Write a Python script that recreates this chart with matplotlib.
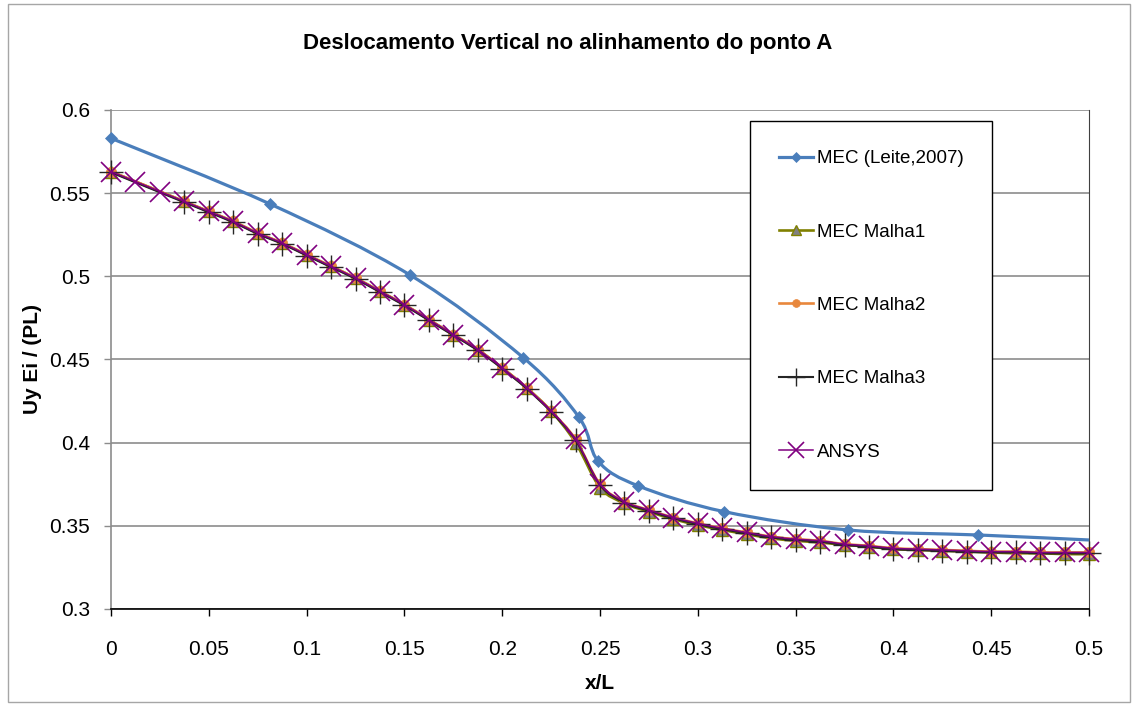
import matplotlib
matplotlib.use("Agg")
import matplotlib.pyplot as plt
import numpy as np
from matplotlib.path import Path
from matplotlib.patches import PathPatch, Rectangle
from matplotlib.lines import Line2D
from matplotlib.ticker import FuncFormatter, MultipleLocator

# ── Données ──────────────────────────────────────────────────────────────────
x_leite = [0.0, 0.0813, 0.1529, 0.2108, 0.2393, 0.2491, 0.2696, 0.3136, 0.3769, 0.4434, 0.5]
uy_leite = [0.583, 0.5435, 0.5008, 0.4511, 0.4152, 0.3888, 0.374, 0.3585, 0.3475, 0.3445, 0.3415]

x_malha = [0.0, 0.0375, 0.05, 0.0625, 0.075, 0.0875, 0.1, 0.1125, 0.125, 0.1375,
           0.15, 0.1625, 0.175, 0.1875, 0.2, 0.2125, 0.225, 0.2375, 0.25, 0.2625,
           0.275, 0.2875, 0.3, 0.3125, 0.325, 0.3375, 0.35, 0.3625, 0.375, 0.3875,
           0.4, 0.4125, 0.425, 0.4375, 0.45, 0.4625, 0.475, 0.4875, 0.5]
uy_malha1 = [0.563, 0.545, 0.539, 0.533, 0.526, 0.520, 0.513, 0.506, 0.499, 0.491,
             0.483, 0.474, 0.465, 0.456, 0.445, 0.433, 0.419, 0.400, 0.373, 0.3635,
             0.3585, 0.354, 0.3505, 0.3475, 0.345, 0.3425, 0.341, 0.340, 0.3385, 0.3375,
             0.336, 0.3355, 0.335, 0.3345, 0.334, 0.3335, 0.3335, 0.333, 0.333]
uy_malha2 = [0.563, 0.545, 0.539, 0.533, 0.526, 0.520, 0.513, 0.506, 0.499, 0.491,
             0.483, 0.474, 0.465, 0.456, 0.445, 0.433, 0.419, 0.402, 0.375, 0.3645,
             0.3595, 0.355, 0.3515, 0.3485, 0.346, 0.3435, 0.342, 0.341, 0.339, 0.338,
             0.3365, 0.336, 0.3355, 0.335, 0.3345, 0.3345, 0.334, 0.334, 0.334]
uy_malha3 = [0.5625, 0.5445, 0.5385, 0.5325, 0.5255, 0.5195, 0.5125, 0.5055, 0.4985, 0.4905,
             0.4825, 0.4735, 0.4645, 0.4555, 0.4445, 0.4325, 0.4185, 0.4015, 0.3745, 0.364,
             0.359, 0.3545, 0.351, 0.348, 0.3455, 0.343, 0.3415, 0.3405, 0.3385, 0.3375,
             0.336, 0.3355, 0.335, 0.3345, 0.334, 0.334, 0.3335, 0.3335, 0.3335]

x_ansys = [0.0, 0.0125, 0.025, 0.0375, 0.05, 0.0625, 0.075, 0.0875, 0.1, 0.1125,
           0.125, 0.1375, 0.15, 0.1625, 0.175, 0.1875, 0.2, 0.2125, 0.225, 0.2375,
           0.25, 0.2625, 0.275, 0.2875, 0.3, 0.3125, 0.325, 0.3375, 0.35, 0.3625,
           0.375, 0.3875, 0.4, 0.4125, 0.425, 0.4375, 0.45, 0.4625, 0.475, 0.4875, 0.5]
uy_ansys = [0.563, 0.557, 0.551, 0.545, 0.539, 0.533, 0.526, 0.520, 0.513, 0.506,
            0.499, 0.491, 0.483, 0.474, 0.465, 0.456, 0.445, 0.433, 0.419, 0.402,
            0.375, 0.3645, 0.3595, 0.355, 0.3515, 0.3485, 0.346, 0.3435, 0.342, 0.341,
            0.339, 0.338, 0.3365, 0.336, 0.3355, 0.335, 0.3345, 0.3345, 0.334, 0.334, 0.334]

labels = ["MEC (Leite,2007)", "MEC Malha1", "MEC Malha2", "MEC Malha3", "ANSYS"]

plt.rcParams["font.family"] = ["Liberation Sans", "DejaVu Sans"]

W, H = 1136, 704
fig = plt.figure(figsize=(W / 100, H / 100), dpi=100)

# bordure extérieure du graphique (style Excel)
fig.patches.append(Rectangle((8 / W, 2 / H), 1122 / W, 698 / H, transform=fig.transFigure,
                             fill=False, edgecolor="#A6A6A6", linewidth=1.0))

x0, x1, ytop, ybot = 111, 1089, 110, 609
ax = fig.add_axes([x0 / W, 1 - ybot / H, (x1 - x0) / W, (ybot - ytop) / H])


def smooth_line(x, y, **kw):
    """Trait lissé façon Excel (Bézier Catmull-Rom) passant par les points."""
    P = np.column_stack([x, y])
    n = len(P)
    verts = [P[0]]
    codes = [Path.MOVETO]
    for i in range(n - 1):
        p_prev = P[i - 1] if i > 0 else P[i]
        p_next2 = P[i + 2] if i + 2 < n else P[i + 1]
        c1 = P[i] + (P[i + 1] - p_prev) / 6.0
        c2 = P[i + 1] - (p_next2 - P[i]) / 6.0
        verts += [c1, c2, P[i + 1]]
        codes += [Path.CURVE4] * 3
    patch = PathPatch(Path(verts, codes), facecolor="none", capstyle="round",
                      joinstyle="round", **kw)
    ax.add_patch(patch)


styles = [
    dict(color="#4A7EBB", lw=2.3, marker="D", ms=6.5, mfc="#4A7EBB", mec="#4A7EBB", mew=0.5),
    dict(color="#808000", lw=1.9, marker="^", ms=9, mfc="#808080", mec="#808000", mew=1.0),
    dict(color="#E8873C", lw=1.9, marker="o", ms=7.5, mfc="#E8873C", mec="#E8873C", mew=0.5),
    dict(color="#262626", lw=1.5, marker="+", ms=17, mfc="none", mec="#262626", mew=1.0),
    dict(color="#800080", lw=1.1, marker="x", ms=15, mfc="none", mec="#800080", mew=1.2),
]
series = [(x_leite, uy_leite), (x_malha, uy_malha1), (x_malha, uy_malha2),
          (x_malha, uy_malha3), (x_ansys, uy_ansys)]

handles = []
for k, ((xs, ys), st, lab) in enumerate(zip(series, styles, labels)):
    z = 3 + k
    smooth_line(xs, ys, edgecolor=st["color"], linewidth=st["lw"], zorder=z)
    mk = st.get("marker")
    ax.plot(xs if k else xs[:-1], ys if k else ys[:-1], ls="none", marker=mk,
            ms=st["ms"], mfc=st["mfc"], mec=st["mec"], mew=st["mew"],
            zorder=z + 0.5, clip_on=False)
    handles.append(Line2D([0], [0], color=st["color"], lw=st["lw"], marker=mk,
                          ms=st["ms"] * 0.75, mfc=st["mfc"], mec=st["mec"],
                          mew=st["mew"], label=lab))

ax.set_xlim(0, 0.5)
ax.set_ylim(0.3, 0.6)
ax.xaxis.set_major_locator(MultipleLocator(0.05))
ax.yaxis.set_major_locator(MultipleLocator(0.05))
fmt = FuncFormatter(lambda v, p: f"{v:g}" if abs(v) > 1e-9 else "0")
ax.xaxis.set_major_formatter(fmt)
ax.yaxis.set_major_formatter(fmt)

ax.grid(axis="y", color="#8C8C8C", linewidth=1.2)
ax.set_axisbelow(True)
ax.spines["top"].set_visible(False)
ax.spines["right"].set_color("#404040")
ax.spines["left"].set_color("#8C8C8C")
ax.spines["left"].set_linewidth(1.2)
ax.spines["bottom"].set_color("#000000")
ax.spines["bottom"].set_linewidth(1.2)
ax.spines["bottom"].set_zorder(2.5)

ax.tick_params(axis="x", direction="out", length=5, width=1, color="#000000",
               labelsize=15, pad=17)
ax.tick_params(axis="y", direction="out", length=5, width=1, color="#8C8C8C",
               labelsize=15, pad=10)

ax.set_xlabel("x/L", fontsize=15, fontweight="bold", labelpad=11)
ax.set_ylabel("Uy Ei / (PL)", fontsize=15, fontweight="bold", labelpad=5)
fig.text(568 / W, 1 - 43 / H, "Deslocamento Vertical no alinhamento do ponto A",
         ha="center", va="center", fontsize=16, fontweight="bold")

leg = ax.legend(handles=handles, loc="upper left",
                bbox_to_anchor=((750 - x0) / (x1 - x0), (ybot - 121) / (ybot - ytop)),
                borderaxespad=0, fontsize=13.5, frameon=True, fancybox=False,
                edgecolor="#000000", framealpha=1, labelspacing=3.0, borderpad=1.55,
                handlelength=1.8, handletextpad=0.2)
leg.get_frame().set_linewidth(1.0)
leg.set_zorder(10)

fig.savefig("out.png", dpi=100)
